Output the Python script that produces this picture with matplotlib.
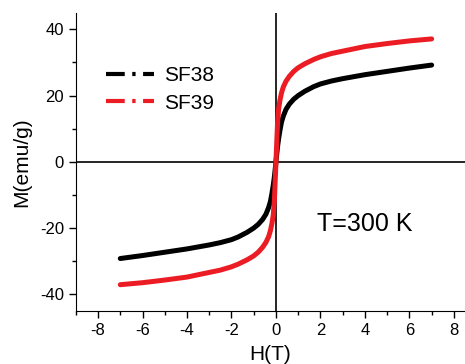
import matplotlib
matplotlib.use('Agg')
import matplotlib.pyplot as plt
from matplotlib.lines import Line2D
from matplotlib.ticker import MultipleLocator

plt.rcParams['font.family'] = ['Liberation Sans', 'DejaVu Sans']
plt.rcParams['axes.unicode_minus'] = False

# campo magnetico (T) e magnetizacao (emu/g)
H = [-7, -6, -5, -4, -3, -2.5, -2, -1.7, -1.3, -1, -0.8, -0.6, -0.45, -0.33, -0.25, -0.18, -0.12, -0.07, -0.03, 0,
     0.03, 0.07, 0.12, 0.18, 0.25, 0.33, 0.45, 0.6, 0.8, 1, 1.3, 1.7, 2, 2.5, 3, 4, 5, 6, 7]
M_sf38 = [-29.2, -28.3, -27.3, -26.3, -25.1, -24.4, -23.5, -22.7, -21.3, -20.0, -18.9, -17.4, -15.8, -13.8, -12.0,
          -9.5, -7.0, -4.5, -2.0, 0.0,
          2.0, 4.5, 7.0, 9.5, 12.0, 13.8, 15.8, 17.4, 18.9, 20.0, 21.3, 22.7, 23.5, 24.4, 25.1, 26.3, 27.3, 28.3, 29.2]
M_sf39 = [-37.1, -36.5, -35.7, -34.8, -33.4, -32.7, -31.7, -30.9, -29.6, -28.4, -27.3, -25.8, -24.3, -22.6, -20.8,
          -18.6, -16.0, -11.5, -5.0, 0.0,
          5.0, 11.5, 16.0, 18.6, 20.8, 22.6, 24.3, 25.8, 27.3, 28.4, 29.6, 30.9, 31.7, 32.7, 33.4, 34.8, 35.7, 36.5, 37.1]
labels = ['SF38', 'SF39']
cores = ['black', '#ec1c24']

fig = plt.figure(figsize=(4.65, 3.64), dpi=100)
ax = fig.add_axes([0.163, 0.146, 0.837, 0.819])

ax.axhline(0, color='black', lw=1.2, zorder=1)
ax.axvline(0, color='black', lw=1.2, zorder=1)

ax.plot(H, M_sf38, color=cores[0], lw=3.6, solid_capstyle='round', solid_joinstyle='round', zorder=2)
ax.plot(H, M_sf39, color=cores[1], lw=3.6, solid_capstyle='round', solid_joinstyle='round', zorder=3)

ax.set_xlim(-9, 8.5)
ax.set_ylim(-45, 45)
ax.xaxis.set_major_locator(MultipleLocator(2))
ax.xaxis.set_minor_locator(MultipleLocator(1))
ax.yaxis.set_major_locator(MultipleLocator(20))
ax.yaxis.set_minor_locator(MultipleLocator(10))
ax.tick_params(which='major', direction='out', length=5, width=1, labelsize=12)
ax.tick_params(which='minor', direction='out', length=3, width=1)
ax.spines['top'].set_visible(False)
ax.spines['right'].set_visible(False)

ax.set_xlabel('H(T)', fontsize=15, labelpad=5)
ax.set_ylabel('M(emu/g)', fontsize=15, labelpad=6)

# legenda com linhas traco-ponto
handles = [Line2D([], [], color=c, lw=3, linestyle=(0, (4.5, 1.8, 0.8, 1.8))) for c in cores]
ax.legend(handles, labels, loc='upper left', bbox_to_anchor=(0.05, 0.855), frameon=False,
          fontsize=15, handlelength=2.3, handletextpad=0.5, labelspacing=0.4, borderpad=0)

ax.text(1.83, -18.8, 'T=300 K', fontsize=18, va='center', ha='left')

fig.savefig('out.png', dpi=100)
